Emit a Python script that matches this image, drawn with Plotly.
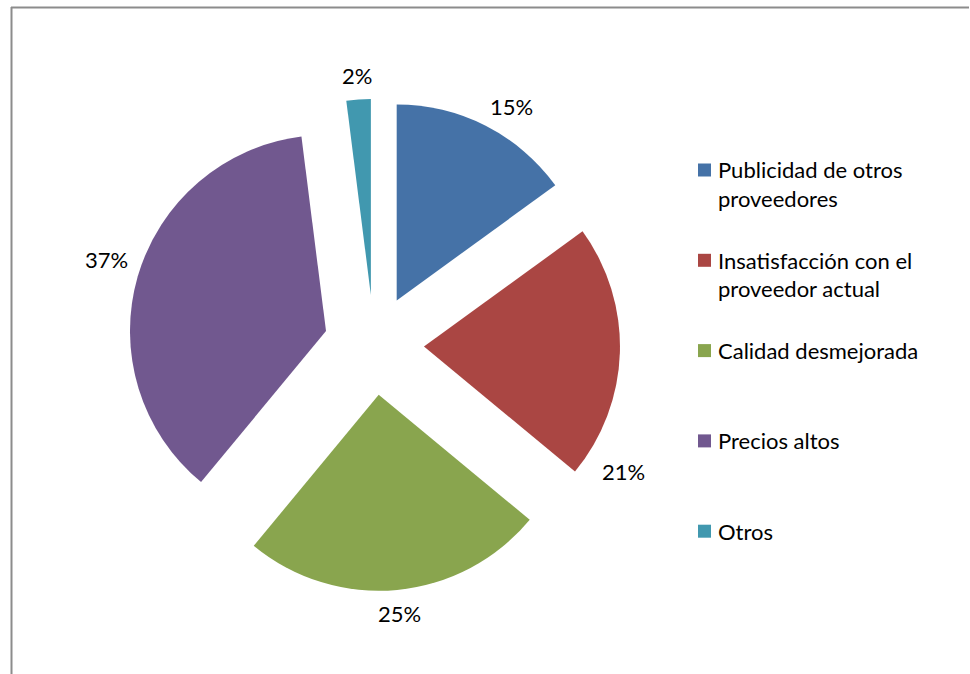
import math
import plotly.graph_objects as go

# Motivos de cambio de proveedor (porcentaje de respuestas)
categories = [
    "Publicidad de otros proveedores",
    "Insatisfacción con el proveedor actual",
    "Calidad desmejorada",
    "Precios altos",
    "Otros",
]
legend_lines = [
    ["Publicidad de otros", "proveedores"],
    ["Insatisfacción con el", "proveedor actual"],
    ["Calidad desmejorada"],
    ["Precios altos"],
    ["Otros"],
]
values = [15, 21, 25, 37, 2]
colors = ["#4572A7", "#AA4643", "#89A54E", "#71588F", "#4198AF"]

# Angular nudge (degrees) applied to each data label along the rim
label_nudge = [3, 25, 0, 1.5, 0]

W, H = 970, 674
FONT = "Lato"
FONT_SIZE = 22


def px(x):
    return x / W


def py(y):
    return 1 - y / H


# Pie centred at (374, 345) px, every slice exploded by ~25 % of the radius
cx, cy, half = 374, 345, 246

fig = go.Figure()
fig.add_trace(
    go.Pie(
        labels=categories,
        values=values,
        sort=False,
        direction="clockwise",
        rotation=0,
        pull=[0.255] * len(values),
        marker=dict(colors=colors, line=dict(width=0)),
        textinfo="none",
        automargin=False,
        domain=dict(x=[px(cx - half), px(cx + half)], y=[py(cy + half), py(cy - half)]),
        showlegend=False,
        hovertemplate="%{label}: %{percent}<extra></extra>",
    )
)

annotations = []
shapes = []

# Percentage labels outside each slice, placed on the slice bisector
total = sum(values)
cum = 0
for v, nudge in zip(values, label_nudge):
    mid = (cum + v / 2) / total * 360 + nudge
    cum += v
    th = math.radians(mid)
    rad = 269 + 12 * abs(math.sin(th))
    annotations.append(dict(
        xref="paper", yref="paper",
        x=px(cx + rad * math.sin(th)), y=py(cy - rad * math.cos(th)),
        xanchor="center", yanchor="middle",
        text=f"{round(v / total * 100)}%", showarrow=False,
        font=dict(family=FONT, size=FONT_SIZE, color="#000000"),
    ))

# Legend drawn at the right: colour square + wrapped text
legend_top = 170
item_step = 90.3
line_step = 28.5
for i, (lines, col) in enumerate(zip(legend_lines, colors)):
    yc = legend_top + i * item_step
    shapes.append(dict(type="rect", xref="paper", yref="paper",
                       x0=px(698), x1=px(711), y0=py(yc + 6.5), y1=py(yc - 6.5),
                       fillcolor=col, line=dict(width=0)))
    for k, txt in enumerate(lines):
        annotations.append(dict(xref="paper", yref="paper", x=px(716),
                                y=py(yc + k * line_step), xanchor="left", yanchor="middle",
                                text=txt, showarrow=False,
                                font=dict(family=FONT, size=FONT_SIZE, color="#000000")))

# Chart-area frame
shapes.append(dict(type="line", xref="paper", yref="paper", x0=px(11), x1=px(969),
                   y0=py(7.5), y1=py(7.5), line=dict(color="#8c8c8c", width=2)))
shapes.append(dict(type="line", xref="paper", yref="paper", x0=px(11.5), x1=px(11.5),
                   y0=py(7), y1=py(H), line=dict(color="#8c8c8c", width=2)))

fig.update_layout(
    width=W, height=H,
    margin=dict(l=0, r=0, t=0, b=0, autoexpand=False),
    paper_bgcolor="#ffffff",
    plot_bgcolor="#ffffff",
    showlegend=False,
    shapes=shapes,
    annotations=annotations,
)

fig.write_html("out.html")
